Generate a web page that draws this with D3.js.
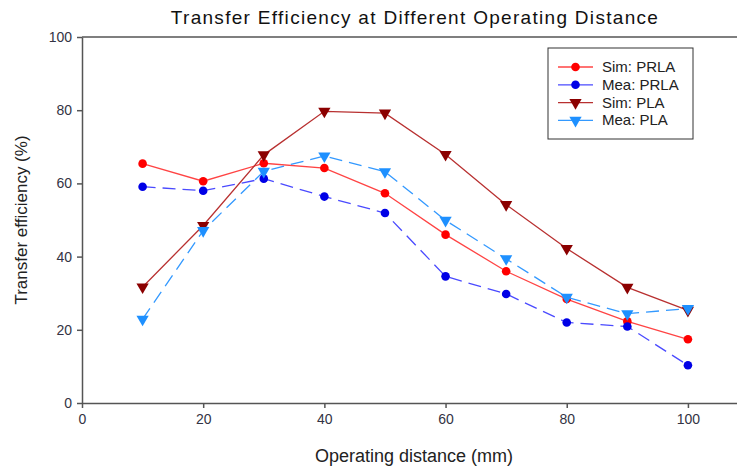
<!DOCTYPE html>
<html>
<head>
<meta charset="utf-8">
<script src="https://cdn.jsdelivr.net/npm/d3@7"></script>
<style>
  body { margin: 0; background: #fff; }
  svg { font-family: "Liberation Sans", Arial, sans-serif; }
  .tick text { fill: #333344; font-size: 14px; }
  .domain, .tick line { stroke: #555; stroke-width: 1.5; }
</style>
</head>
<body>
<script>
// data
var distance = [10, 20, 30, 40, 50, 60, 70, 80, 90, 100];
var simPRLA = [65.4, 60.6, 65.5, 64.2, 57.3, 46.0, 36.0, 28.4, 22.3, 17.4];
var meaPRLA = [59.1, 58.0, 61.3, 56.4, 51.9, 34.6, 29.8, 22.0, 20.9, 10.3];
var simPLA  = [31.7, 48.5, 67.8, 79.7, 79.2, 67.9, 54.2, 42.2, 31.6, 25.3];
var meaPLA  = [22.9, 47.1, 63.3, 67.5, 63.2, 49.9, 39.4, 28.9, 24.4, 25.8];
var xTicks = [0, 20, 40, 60, 80, 100];
var yTicks = [0, 20, 40, 60, 80, 100];

var series = [
  {name: "Sim: PRLA", values: simPRLA, line: "#ff4444", mark: "#ff0000", dash: null, shape: "circle"},
  {name: "Mea: PRLA", values: meaPRLA, line: "#4a4aff", mark: "#0000e6", dash: "13,7", shape: "circle"},
  {name: "Sim: PLA", values: simPLA, line: "#b83030", mark: "#8b0000", dash: null, shape: "tri"},
  {name: "Mea: PLA", values: meaPLA, line: "#3399ff", mark: "#1e90ff", dash: "13,7", shape: "tri"}
];

var W = 737, H = 466;
var margin = {top: 37, right: 0, bottom: 63, left: 82};

var svg = d3.select("body").append("svg")
    .attr("width", W)
    .attr("height", H);

var x = d3.scaleLinear().domain([0, 108.1]).range([margin.left, W - margin.right]);
var y = d3.scaleLinear().domain([0, 100]).range([H - margin.bottom, margin.top]);

// top frame line
svg.append("line")
    .attr("x1", margin.left).attr("x2", W)
    .attr("y1", y(100)).attr("y2", y(100))
    .attr("stroke", "#555").attr("stroke-width", 1.5);

svg.append("g")
    .attr("transform", "translate(0," + y(0) + ")")
    .call(d3.axisBottom(x).tickValues(xTicks).tickSize(5).tickSizeOuter(0).tickPadding(6));

svg.append("g")
    .attr("transform", "translate(" + margin.left + ",0)")
    .call(d3.axisLeft(y).tickValues(yTicks).tickSize(5).tickSizeOuter(0).tickPadding(5));

var line = d3.line()
    .x(function(d, i) { return x(distance[i]); })
    .y(function(d) { return y(d); });

var tri = d3.symbol().type(d3.symbolTriangle).size(65);

function drawMarker(g, s, cx, cy) {
    if (s.shape === "circle") {
        g.append("circle").attr("cx", cx).attr("cy", cy).attr("r", 4.3).attr("fill", s.mark);
    } else {
        g.append("path").attr("d", tri)
            .attr("transform", "translate(" + cx + "," + cy + ") rotate(180)")
            .attr("fill", s.mark);
    }
}

series.forEach(function(s) {
    var g = svg.append("g");
    g.append("path")
        .attr("d", line(s.values))
        .attr("fill", "none")
        .attr("stroke", s.line)
        .attr("stroke-width", 1.3)
        .attr("stroke-dasharray", s.dash);
    s.values.forEach(function(v, i) {
        drawMarker(g, s, x(distance[i]), y(v));
    });
});

// legend
var lg = svg.append("g").attr("transform", "translate(548,48)");
lg.append("rect")
    .attr("width", 145).attr("height", 91)
    .attr("fill", "#fff").attr("stroke", "#333").attr("stroke-width", 1);
series.forEach(function(s, i) {
    var ly = 19 + i * 17.8;
    lg.append("line")
        .attr("x1", 10).attr("x2", 45).attr("y1", ly).attr("y2", ly)
        .attr("stroke", s.line).attr("stroke-width", 1.3);
    drawMarker(lg, s, 27.5, ly);
    lg.append("text")
        .attr("x", 54).attr("y", ly + 5)
        .attr("font-size", "15px").attr("fill", "#222")
        .text(s.name);
});

// title and axis titles
svg.append("text")
    .attr("x", 415).attr("y", 24)
    .attr("text-anchor", "middle")
    .attr("font-size", "19px").attr("letter-spacing", "1.3px").attr("fill", "#111")
    .text("Transfer Efficiency at Different Operating Distance");

svg.append("text")
    .attr("x", 414).attr("y", 462)
    .attr("text-anchor", "middle")
    .attr("font-size", "18px").attr("fill", "#222")
    .text("Operating distance (mm)");

svg.append("text")
    .attr("transform", "translate(27,220) rotate(-90)")
    .attr("text-anchor", "middle")
    .attr("font-size", "17px").attr("fill", "#222")
    .text("Transfer efficiency (%)");
</script>
</body>
</html>
